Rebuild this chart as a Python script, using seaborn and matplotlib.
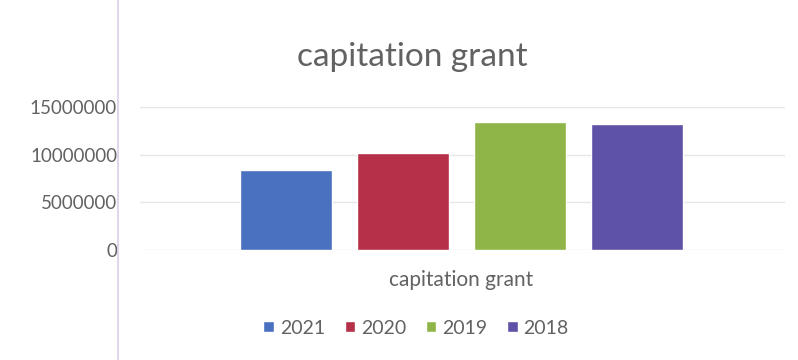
import matplotlib
matplotlib.use("Agg")
import matplotlib.pyplot as plt
import seaborn as sns
import pandas as pd

# Capitation grant received per year
category = "capitation grant"
years = ["2021", "2020", "2019", "2018"]
grant = [8400000, 10200000, 13400000, 13200000]
y_ticks = [0, 5000000, 10000000, 15000000]
bar_colors = ["#4A70C0", "#B53048", "#8FB548", "#5E52A6"]

df = pd.DataFrame({"category": [category] * len(years), "year": years, "grant": grant})

sns.set_theme(style="white")
plt.rcParams["font.family"] = ["Lato", "DejaVu Sans"]
text_color = "#626262"

fig = plt.figure(figsize=(7.98, 3.60), dpi=100)
ax = fig.add_axes([140 / 798, 1 - 250 / 360, 645 / 798, 143 / 360])

sns.barplot(data=df, x="category", y="grant", hue="year", hue_order=years,
            palette=bar_colors, width=0.8, gap=0.21, saturation=1,
            legend=True, ax=ax)

ax.set_xlim(-0.5496, 0.553)
ax.set_ylim(0, 15000000)
ax.set_yticks(y_ticks)
ax.set_yticklabels([str(v) for v in y_ticks], color=text_color, fontsize=13.5)
ax.yaxis.grid(True, color="#E6E6E6", linewidth=1)
ax.set_axisbelow(True)
ax.tick_params(axis="y", length=0, pad=16.5)
ax.tick_params(axis="x", length=0)
ax.set_xticks([])
ax.set_xlabel("")
ax.set_ylabel("")
for s in ax.spines.values():
    s.set_visible(False)

# Category label under the bars
ax.text(0, -0.21, category, transform=ax.get_xaxis_transform(),
        ha="center", va="center", color=text_color, fontsize=15)

fig.text(412 / 798, 1 - 57 / 360, "capitation grant", ha="center", va="center",
         color=text_color, fontsize=24)

handles, labels = ax.get_legend_handles_labels()
ax.legend_.remove()
fig.legend(handles, labels, loc="center", bbox_to_anchor=(416 / 798, 1 - 328 / 360),
           ncol=4, frameon=False, fontsize=14, labelcolor=text_color,
           handlelength=0.55, handleheight=0.55, handletextpad=0.3, columnspacing=1.0)

# Thin page guide on the left
fig.add_artist(plt.Line2D([118 / 798, 118 / 798], [0, 1], transform=fig.transFigure,
                          color="#DCCDEB", linewidth=1.2))

fig.savefig("out.png", dpi=100, facecolor="white")
